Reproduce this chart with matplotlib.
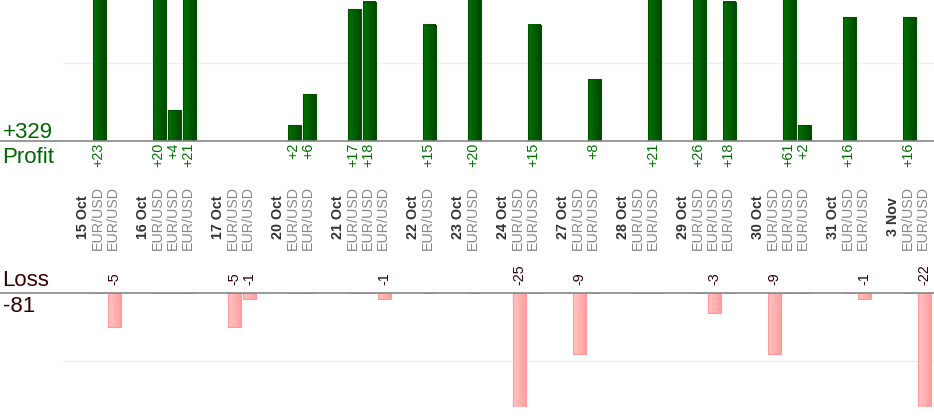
import matplotlib
matplotlib.use('agg')
import matplotlib.pyplot as plt
import numpy as np
from matplotlib.colors import LinearSegmentedColormap
from matplotlib.transforms import blended_transform_factory

# one entry per trading day, results of each trade in pips
days = ['15 Oct', '16 Oct', '17 Oct', '20 Oct', '21 Oct', '22 Oct', '23 Oct',
        '24 Oct', '27 Oct', '28 Oct', '29 Oct', '30 Oct', '31 Oct', '3 Nov']
trade_results = [[23, -5], [20, 4, 21], [-5, -1], [2, 6], [17, 18, -1], [15],
                 [20], [-25, 15], [-9, 8], [0, 21], [26, -3, 18], [-9, 61, 2],
                 [16, -1], [16, -22]]
pair = 'EUR/USD'

W, H = 934, 420
SLOT_PX = 15
FIRST_SLOT_PX = 83
PROFIT_PX = 7.75   # pixels per pip, top panel
LOSS_PX = 6.85     # pixels per pip, bottom panel

plt.rcParams['font.family'] = ['Liberation Sans', 'DejaVu Sans']

# a label slot before every day, one slot per trade, an empty slot after
labels = []
trade_x, trade_val = [], []
pos = 0
for day, results in zip(days, trade_results):
    labels.append((pos, day, True))
    pos += 1
    for r in results:
        labels.append((pos, pair, False))
        trade_x.append(pos)
        trade_val.append(r)
        pos += 1
    pos += 1
trade_x = np.array(trade_x)
trade_val = np.array(trade_val)
profit = np.where(trade_val > 0, trade_val, 0)
loss = np.where(trade_val < 0, trade_val, 0)


def fy(px):
    return 1 - px / H


def gradient_fill(ax, bars, left, right, ylim):
    # left-to-right shading inside every bar, cut at the panel limits
    cmap = LinearSegmentedColormap.from_list('g', [left, right])
    grad = np.linspace(0, 1, 32).reshape(1, -1)
    for b in bars:
        if b.get_height() == 0:
            continue
        x0 = b.get_x()
        y0, y1 = sorted((b.get_y(), b.get_y() + b.get_height()))
        y0, y1 = max(y0, ylim[0]), min(y1, ylim[1])
        ax.imshow(grad, cmap=cmap, aspect='auto', zorder=2,
                  extent=[x0, x0 + b.get_width(), y0, y1])


fig = plt.figure(figsize=(W / 100, H / 100), dpi=100)
xlim = (-FIRST_SLOT_PX / SLOT_PX, (W - FIRST_SLOT_PX) / SLOT_PX)
bar_x = trade_x + 0.08
bar_w = 13 / SLOT_PX

top_base = 141
ax_top = fig.add_axes([0, fy(top_base), 1, top_base / H])
bot_base, bot_end = 292.5, 407
ax_bot = fig.add_axes([0, fy(bot_end), 1, (bot_end - bot_base) / H])

for ax in (ax_top, ax_bot):
    ax.set_axis_off()

# profit panel
top_ylim = (0, top_base / PROFIT_PX)
bars = ax_top.bar(bar_x, profit, width=bar_w, facecolor='none',
                  edgecolor='#005200', linewidth=0.8, zorder=3)
gradient_fill(ax_top, bars, '#007400', '#004800', top_ylim)
ax_top.axhline(10, xmin=63 / W, color='#eeeeee', linewidth=1, zorder=1)
ax_top.axhline(0, color='#888888', linewidth=1.2, zorder=4, clip_on=False)
ax_top.set_xlim(xlim)
ax_top.set_ylim(top_ylim)
for x, v in zip(bar_x, profit):
    if v > 0:
        ax_top.annotate('+%d' % v, (x - 0.07, 0), xytext=(0, -1.5),
                        textcoords='offset points', ha='center', va='top',
                        rotation=90, fontsize=10.3, color='#007000')

# loss panel
bot_ylim = (-(bot_end - bot_base) / LOSS_PX, 0)
bars = ax_bot.bar(bar_x, loss, width=bar_w, facecolor='none',
                  edgecolor='#ff9a9a', linewidth=0.8, zorder=3)
gradient_fill(ax_bot, bars, '#ffc4c4', '#ffa0a0', bot_ylim)
ax_bot.axhline(-10, xmin=63 / W, color='#eeeeee', linewidth=1, zorder=1)
ax_bot.axhline(0, color='#888888', linewidth=1.2, zorder=4, clip_on=False)
ax_bot.set_xlim(xlim)
ax_bot.set_ylim(bot_ylim)
for x, v in zip(bar_x, loss):
    if v < 0:
        ax_bot.annotate('%d' % v, (x, 0), xytext=(0, 5.5),
                        textcoords='offset points', ha='center', va='bottom',
                        rotation=90, fontsize=10.3, color='#330000')

# day and pair labels between the panels
tr = blended_transform_factory(ax_top.transData, fig.transFigure)
for x, text, is_day in labels:
    if is_day:
        ax_top.text(x, fy(217), text, transform=tr, rotation=90, ha='center',
                    va='center', fontsize=10.3, fontweight='bold',
                    color='#333333', clip_on=False)
    else:
        ax_top.text(x, fy(218), text, transform=tr, rotation=90, ha='center',
                    va='center', fontsize=10.3, color='#888888', clip_on=False)

# totals on the left
fig.text(2.5 / W, fy(137.5), '+%d' % profit.sum(), fontsize=16,
         color='#006600', va='baseline')
fig.text(2.5 / W, fy(163), 'Profit', fontsize=16, color='#006600',
         va='baseline')
fig.text(2.5 / W, fy(286.5), 'Loss', fontsize=16, color='#330000',
         va='baseline')
fig.text(2.5 / W, fy(311.5), '%d' % loss.sum(), fontsize=16,
         color='#330000', va='baseline')

plt.savefig('out.png', dpi=100)
